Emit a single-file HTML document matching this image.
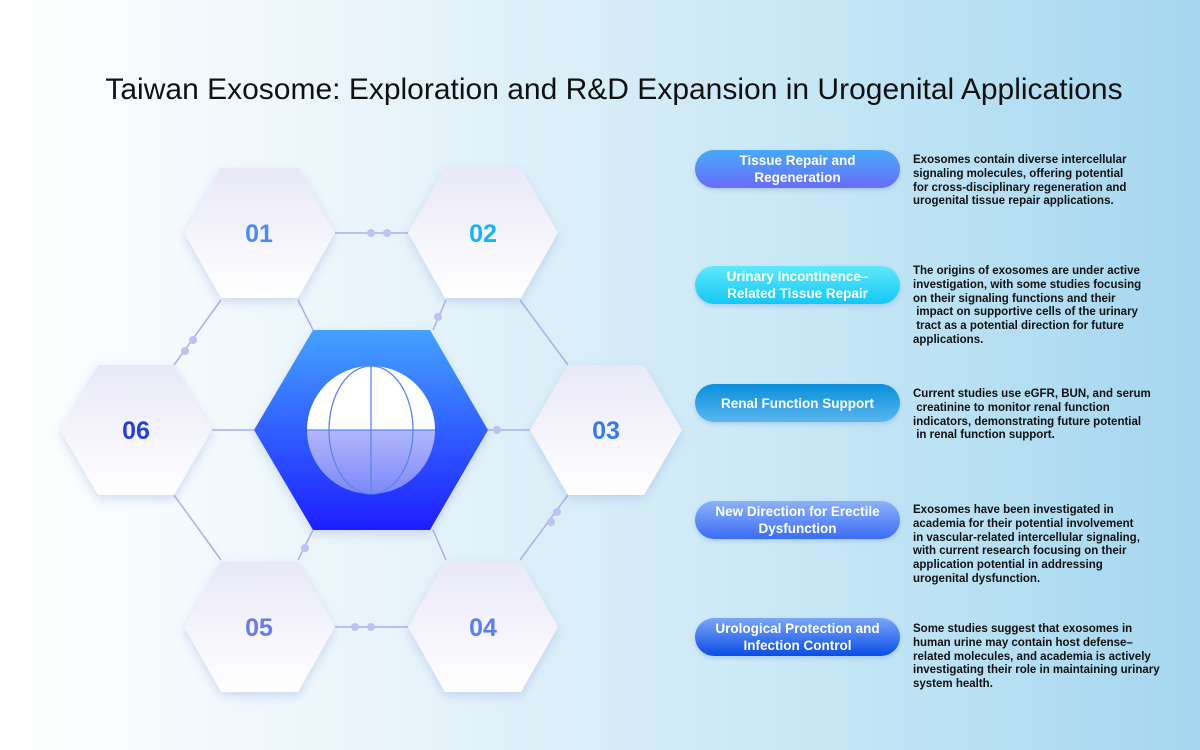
<!DOCTYPE html>
<html><head><meta charset="utf-8"><style>
body{margin:0;width:1200px;height:750px;overflow:hidden;font-family:"Liberation Sans",sans-serif;background:linear-gradient(90deg,#ffffff 0%,#e6f3fa 35%,#c4e6f5 70%,#a5d6ef 100%);position:relative}
.t{position:absolute;left:0;width:1228px;top:73px;text-align:center;font-size:30px;color:#111}
.pill{position:absolute;left:695px;width:205px;height:38px;border-radius:19px;color:#fff;font-weight:bold;font-size:13.5px;line-height:17px;display:flex;align-items:center;justify-content:center;text-align:center;box-shadow:0 2px 4px rgba(80,120,200,.25)}
.d{position:absolute;left:913px;width:260px;font-size:11.5px;line-height:13.8px;font-weight:bold;color:#111}
</style></head><body>
<div class="t">Taiwan Exosome: Exploration and R&amp;D Expansion in Urogenital Applications</div>
<svg width="700" height="750" style="position:absolute;left:0;top:0">
<defs>
<linearGradient id="hx" x1="0" y1="0" x2="0" y2="1"><stop offset="0" stop-color="#e9e8f8"/><stop offset="1" stop-color="#ffffff"/></linearGradient>
<linearGradient id="cg" x1="0" y1="0" x2="0" y2="1"><stop offset="0" stop-color="#44a2ff"/><stop offset="1" stop-color="#1e1eff"/></linearGradient>
<linearGradient id="gl" x1="0" y1="0" x2="0" y2="1"><stop offset="0" stop-color="#e8e8ff"/><stop offset="1" stop-color="#7c88f8"/></linearGradient>
<filter id="sh"><feDropShadow dx="0" dy="4" stdDeviation="5" flood-color="#8aa0e0" flood-opacity=".35"/></filter>
</defs>
<g stroke="#a9b0ec" stroke-width="1.5" fill="none">
<line x1="335" y1="233" x2="408" y2="233"/><line x1="335" y1="627" x2="408" y2="627"/>
<line x1="221" y1="300" x2="174" y2="365"/><line x1="298" y1="300" x2="313" y2="330"/>
<line x1="446" y1="300" x2="433" y2="330"/><line x1="520" y1="300" x2="568" y2="365"/>
<line x1="212" y1="430" x2="254" y2="430"/><line x1="488" y1="430" x2="530" y2="430"/>
<line x1="174" y1="495" x2="221" y2="560"/><line x1="313" y1="530" x2="298" y2="560"/>
<line x1="433" y1="530" x2="446" y2="560"/><line x1="568" y1="495" x2="520" y2="560"/>
</g>
<g fill="#bcc2f2">
<circle cx="371" cy="233" r="4"/><circle cx="387" cy="233" r="4"/>
<circle cx="355" cy="627" r="4"/><circle cx="371" cy="627" r="4"/>
<circle cx="193" cy="340" r="4"/><circle cx="185" cy="351" r="4"/>
<circle cx="438" cy="317" r="4"/><circle cx="497" cy="430" r="4"/>
<circle cx="305" cy="548" r="4"/><circle cx="557" cy="512" r="4"/><circle cx="551" cy="522" r="4"/>
</g>
<g fill="url(#hx)" filter="url(#sh)">
<polygon points="184,233 221,168 298,168 335,233 298,298 221,298"/>
<polygon points="408,233 445,168 521,168 558,233 521,298 445,298"/>
<polygon points="530,430 568,365 644,365 682,430 644,495 568,495"/>
<polygon points="408,627 445,562 521,562 558,627 521,692 445,692"/>
<polygon points="184,627 221,562 298,562 335,627 298,692 221,692"/>
<polygon points="60,430 98,365 174,365 212,430 174,495 98,495"/>
</g>
<polygon points="254,430 313,330 430,330 488,430 430,530 313,530" fill="url(#cg)" filter="url(#sh)"/>
<circle cx="371" cy="430" r="64" fill="url(#gl)"/>
<path d="M307,430 A64,64 0 0 1 435,430 Z" fill="#fff"/>
<g stroke="#5a86ee" stroke-width="1.3" fill="none">
<line x1="307" y1="430" x2="435" y2="430"/><line x1="371" y1="366" x2="371" y2="494"/>
<ellipse cx="371" cy="430" rx="42" ry="64"/>
</g>
<g font-family="Liberation Sans,sans-serif" font-weight="bold" font-size="25" text-anchor="middle">
<text x="259" y="242" fill="#4a8cf5">01</text><text x="483" y="242" fill="#16b4f2">02</text>
<text x="606" y="439" fill="#3a78f0">03</text><text x="483" y="636" fill="#5a7ff0">04</text>
<text x="259" y="636" fill="#6a7ce0">05</text><text x="136" y="439" fill="#2840d8">06</text>
</g>
</svg>
<div class="pill" style="top:150px;background:linear-gradient(180deg,#46aaf8,#6a6cf8)">Tissue Repair and<br>Regeneration</div>
<div class="pill" style="top:266px;background:linear-gradient(180deg,#5ee8fb,#14c8f4)">Urinary Incontinence–<br>Related Tissue Repair</div>
<div class="pill" style="top:384px;background:linear-gradient(180deg,#0a8fdc,#5ab6ee)">Renal Function Support</div>
<div class="pill" style="top:501px;background:linear-gradient(180deg,#8cb2f8,#3c6cf6)">New Direction for Erectile<br>Dysfunction</div>
<div class="pill" style="top:618px;background:linear-gradient(180deg,#7aa6f8,#0a4ce6)">Urological Protection and<br>Infection Control</div>
<div class="d" style="top:154px">Exosomes contain diverse intercellular<br>signaling molecules, offering potential<br>for cross-disciplinary regeneration and<br>urogenital tissue repair applications.</div>
<div class="d" style="top:265px">The origins of exosomes are under active<br>investigation, with some studies focusing<br>on their signaling functions and their<br>&nbsp;impact on supportive cells of the urinary<br>&nbsp;tract as a potential direction for future<br>applications.</div>
<div class="d" style="top:388px">Current studies use eGFR, BUN, and serum<br>&nbsp;creatinine to monitor renal function<br>indicators, demonstrating future potential<br>&nbsp;in renal function support.</div>
<div class="d" style="top:504px">Exosomes have been investigated in<br>academia for their potential involvement<br>in vascular-related intercellular signaling,<br>with current research focusing on their<br>application potential in addressing<br>urogenital dysfunction.</div>
<div class="d" style="top:623px">Some studies suggest that exosomes in<br>human urine may contain host defense–<br>related molecules, and academia is actively<br>investigating their role in maintaining urinary<br>system health.</div>
</body></html>
